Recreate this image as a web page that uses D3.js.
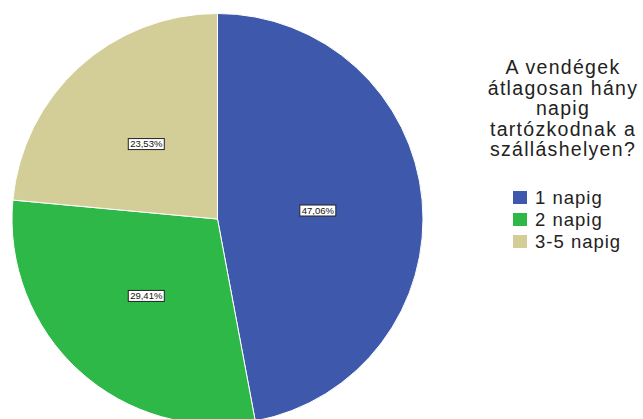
<!DOCTYPE html>
<html><head><meta charset="utf-8">
<script src="https://cdn.jsdelivr.net/npm/d3@7"></script>
<style>body{margin:0;background:#fff}svg{display:block}</style>
</head><body>
<script>
const categories = ["1 napig", "2 napig", "3-5 napig"];
const counts = [8, 5, 4];
const percentLabels = ["47,06%", "29,41%", "23,53%"];
const colors = ["#3E58AC", "#2EB848", "#D3CE97"];
const titleLines = ["A vendégek", "átlagosan hány", "napig", "tartózkodnak a", "szálláshelyen?"];

const W = 643, H = 419;
const svg = d3.select("body").append("svg").attr("width", W).attr("height", H);
const cx = 217.5, cy = 219, R = 205.5;

const pie = d3.pie().sort(null).value(d => d)(counts);
const arc = d3.arc().innerRadius(0).outerRadius(R);
const labelArc = d3.arc().innerRadius(R * 0.5).outerRadius(R * 0.5);
const color = d3.scaleOrdinal().domain(categories).range(colors);

const g = svg.append("g").attr("transform", `translate(${cx},${cy})`);
g.selectAll("path").data(pie).join("path")
  .attr("d", arc)
  .attr("fill", (d, i) => color(categories[i]))
  .attr("stroke", "#fff").attr("stroke-width", 1);

const lbl = g.selectAll("g.lbl").data(pie).join("g").attr("class", "lbl")
  .attr("transform", d => { const c = labelArc.centroid(d); return `translate(${c[0] - 2},${c[1] + 1})`; });
lbl.append("rect").attr("x", -18).attr("y", -5.5).attr("width", 36).attr("height", 11)
  .attr("fill", "#fff").attr("stroke", "#222").attr("stroke-width", 1);
lbl.append("text").attr("text-anchor", "middle").attr("y", 3.4)
  .attr("font-family", "Liberation Sans, Arial, sans-serif").attr("font-size", 9.5)
  .attr("fill", "#111")
  .text((d, i) => percentLabels[i]);

const tg = svg.append("g").attr("font-family", "Liberation Sans, Arial, sans-serif").attr("fill", "#222");
tg.selectAll("text").data(titleLines).join("text")
  .attr("x", 563).attr("y", (d, i) => 74 + i * 20.5)
  .attr("text-anchor", "middle").attr("font-size", 19.5)
  .attr("letter-spacing", 1.3)
  .text(d => d);

const lg = svg.append("g").attr("font-family", "Liberation Sans, Arial, sans-serif");
const items = lg.selectAll("g").data(categories).join("g")
  .attr("transform", (d, i) => `translate(513,${191 + i * 22})`);
items.append("rect").attr("width", 14).attr("height", 13).attr("fill", d => color(d));
items.append("text").attr("x", 22).attr("y", 13).attr("font-size", 18.5)
  .attr("letter-spacing", 1).attr("fill", "#222").text(d => d);
</script>
</body></html>
